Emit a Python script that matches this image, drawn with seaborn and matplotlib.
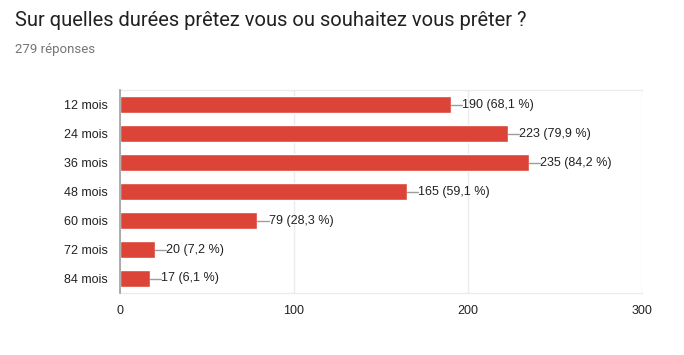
import pandas as pd
import matplotlib
matplotlib.use('Agg')
import matplotlib.pyplot as plt
import seaborn as sns

# Données du graphique
durees = ['12 mois', '24 mois', '36 mois', '48 mois', '60 mois', '72 mois', '84 mois']
reponses = [190, 223, 235, 165, 79, 20, 17]
pourcentages = ['68,1', '79,9', '84,2', '59,1', '28,3', '7,2', '6,1']
ticks_x = [0, 100, 200, 300]

titre = 'Sur quelles durées prêtez vous ou souhaitez vous prêter ?'
sous_titre = '279 réponses'

df = pd.DataFrame({'duree': durees, 'reponses': reponses})

sns.set_style('white')
plt.rcParams['font.family'] = ['Liberation Sans', 'DejaVu Sans']

fig = plt.figure(figsize=(6.84, 3.55), dpi=100)
ax = fig.add_axes([120/684, 1 - 293/355, 522/684, 203/355])

sns.barplot(data=df, x='reponses', y='duree', color='#db4437', width=0.62,
            saturation=1, ax=ax, zorder=3)

# Étiquettes avec trait de liaison
for i, (v, p) in enumerate(zip(reponses, pourcentages)):
    ax.plot([v, v + 6.5], [i, i], color='#9e9e9e', lw=1, zorder=4)
    ax.text(v + 6.5, i, f'{v} ({p} %)', va='center', ha='left',
            fontsize=9, color='#222222')

ax.set_xlim(0, 300)
ax.set_ylim(6.5, -0.5)
ax.set_xticks(ticks_x)
ax.set_xlabel('')
ax.set_ylabel('')
ax.grid(axis='x', color='#ebebeb', lw=1, zorder=0)
ax.tick_params(axis='both', length=0, labelsize=9, colors='#222222')
ax.tick_params(axis='x', pad=9)
ax.tick_params(axis='y', pad=9)

for s in ['top', 'bottom', 'right']:
    ax.spines[s].set_color('#ebebeb')
    ax.spines[s].set_linewidth(1)
ax.spines['right'].set_visible(False)
ax.spines['left'].set_color('#9e9e9e')
ax.spines['left'].set_linewidth(1.2)
ax.spines['left'].set_zorder(5)

fig.text(15/684, 1 - 20/355, titre, fontsize=14.5, color='#212121',
         family=['Roboto', 'DejaVu Sans'], va='center', ha='left')
fig.text(15/684, 1 - 49/355, sous_titre, fontsize=9.5, color='#757575',
         family=['Roboto', 'DejaVu Sans'], va='center', ha='left')

fig.savefig('out.png', dpi=100)
